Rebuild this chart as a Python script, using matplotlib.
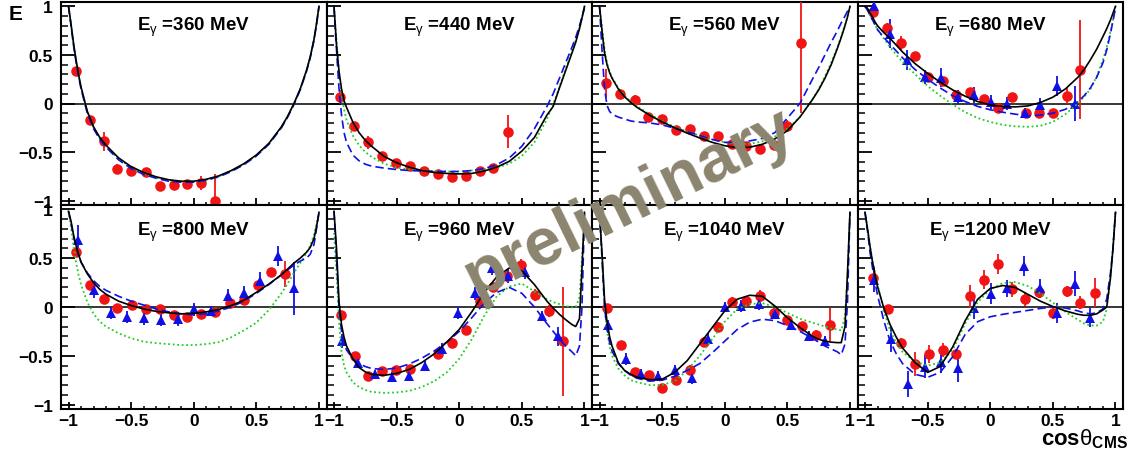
import matplotlib
matplotlib.use("Agg")
import matplotlib.pyplot as plt
from matplotlib.ticker import MultipleLocator, FixedLocator, FixedFormatter

plt.rcParams['font.family'] = ['Liberation Sans', 'DejaVu Sans']
plt.rcParams['mathtext.fontset'] = 'custom'
plt.rcParams['mathtext.rm'] = 'Liberation Sans'
plt.rcParams['mathtext.it'] = 'Liberation Sans:italic'
plt.rcParams['mathtext.bf'] = 'Liberation Sans:bold'

# ---------------- data ----------------
energies = [360, 440, 560, 680, 800, 960, 1040, 1200]

XG = [-1.0, -0.98, -0.96, -0.94, -0.92, -0.9, -0.85, -0.8, -0.75, -0.7, -0.6, -0.5, -0.4, -0.3, -0.2,
      -0.1, 0.0, 0.1, 0.2, 0.3, 0.4, 0.5, 0.6, 0.7, 0.75, 0.8, 0.85, 0.9, 0.93, 0.96, 0.98, 1.0]

# black solid model curves
black_360 = [1.0, 0.82, 0.62, 0.45, 0.30, 0.17, -0.08, -0.24, -0.35, -0.43, -0.56, -0.65, -0.71, -0.755, -0.785,
             -0.80, -0.80, -0.78, -0.745, -0.69, -0.62, -0.53, -0.41, -0.24, -0.13, 0.0, 0.15, 0.34, 0.48, 0.66, 0.82, 1.0]
black_440 = [1.0, 0.60, 0.33, 0.15, 0.03, -0.04, -0.19, -0.30, -0.38, -0.44, -0.545, -0.61, -0.655, -0.69, -0.71,
             -0.72, -0.725, -0.72, -0.695, -0.655, -0.595, -0.49, -0.35, -0.12, -0.03, 0.16, 0.34, 0.52, 0.63, 0.77, 0.88, 1.0]
black_560 = [1.0, 0.75, 0.52, 0.40, 0.32, 0.26, 0.15, 0.07, 0.01, -0.04, -0.12, -0.19, -0.25, -0.305, -0.355,
             -0.40, -0.435, -0.455, -0.45, -0.42, -0.365, -0.28, -0.14, 0.04, 0.14, 0.26, 0.40, 0.57, 0.68, 0.80, 0.89, 1.0]
black_680 = [1.0, 0.98, 0.93, 0.89, 0.84, 0.80, 0.73, 0.67, 0.60, 0.53, 0.41, 0.31, 0.22, 0.14, 0.075,
             0.02, -0.015, -0.03, -0.035, -0.025, 0.01, 0.065, 0.15, 0.27, 0.35, 0.45, 0.56, 0.69, 0.77, 0.86, 0.93, 1.0]
black_800 = [0.98, 0.88, 0.74, 0.63, 0.54, 0.46, 0.34, 0.25, 0.18, 0.13, 0.06, 0.015, -0.02, -0.045, -0.06,
             -0.07, -0.065, -0.05, -0.025, 0.015, 0.07, 0.15, 0.235, 0.33, 0.39, 0.45, 0.50, 0.56, 0.61, 0.70, 0.82, 0.97]
black_960 = [0.98, 0.60, 0.05, -0.18, -0.31, -0.40, -0.53, -0.62, -0.665, -0.69, -0.70, -0.68, -0.64, -0.57, -0.48,
             -0.36, -0.23, -0.05, 0.15, 0.31, 0.40, 0.37, 0.23, 0.06, -0.01, -0.075, -0.13, -0.18, -0.20, -0.12, 0.40, 0.97]
black_1040 = [0.97, 0.55, 0.08, -0.15, -0.30, -0.40, -0.57, -0.65, -0.69, -0.72, -0.745, -0.74, -0.67, -0.55, -0.38,
              -0.21, -0.04, 0.08, 0.12, 0.11, 0.01, -0.11, -0.21, -0.30, -0.33, -0.35, -0.36, -0.365, -0.365, -0.20, 0.35, 0.97]
black_1200 = [0.97, 0.80, 0.62, 0.46, 0.33, 0.21, -0.01, -0.18, -0.31, -0.42, -0.57, -0.67, -0.61, -0.41, -0.14,
              0.08, 0.19, 0.22, 0.20, 0.13, 0.06, 0.005, -0.04, -0.075, -0.085, -0.085, -0.07, -0.03, 0.0, 0.30, 0.60, 0.97]

# blue dashed model curves
blue_360 = [1.0, 0.80, 0.60, 0.43, 0.28, 0.15, -0.10, -0.26, -0.37, -0.45, -0.58, -0.67, -0.73, -0.77, -0.80,
            -0.81, -0.81, -0.79, -0.755, -0.70, -0.63, -0.54, -0.42, -0.25, -0.14, -0.01, 0.14, 0.33, 0.47, 0.65, 0.81, 1.0]
blue_440 = [0.98, 0.55, 0.15, -0.12, -0.30, -0.40, -0.53, -0.59, -0.625, -0.645, -0.665, -0.68, -0.69, -0.695, -0.70,
            -0.70, -0.70, -0.69, -0.67, -0.63, -0.56, -0.44, -0.26, -0.03, 0.10, 0.26, 0.42, 0.58, 0.68, 0.80, 0.89, 0.98]
blue_560 = [1.0, 0.55, 0.15, -0.02, -0.08, -0.11, -0.14, -0.16, -0.18, -0.19, -0.20, -0.22, -0.255, -0.29, -0.33,
            -0.37, -0.40, -0.40, -0.385, -0.36, -0.30, -0.15, 0.0, 0.25, 0.37, 0.50, 0.63, 0.75, 0.83, 0.90, 0.95, 1.0]
blue_680 = [1.0, 0.96, 0.91, 0.86, 0.81, 0.76, 0.68, 0.61, 0.54, 0.47, 0.35, 0.25, 0.16, 0.08, 0.02,
            -0.03, -0.065, -0.09, -0.11, -0.125, -0.12, -0.10, -0.06, 0.02, 0.08, 0.16, 0.27, 0.42, 0.55, 0.72, 0.85, 0.98]
blue_800 = [0.98, 0.86, 0.72, 0.62, 0.53, 0.46, 0.35, 0.27, 0.21, 0.17, 0.11, 0.06, 0.02, -0.02, -0.05,
            -0.07, -0.08, -0.07, -0.04, 0.0, 0.06, 0.14, 0.23, 0.33, 0.38, 0.43, 0.47, 0.50, 0.54, 0.64, 0.80, 0.97]
blue_960 = [0.98, 0.50, -0.02, -0.25, -0.37, -0.44, -0.53, -0.58, -0.61, -0.63, -0.64, -0.625, -0.585, -0.525, -0.45,
            -0.36, -0.25, -0.11, 0.04, 0.15, 0.20, 0.14, 0.0, -0.17, -0.25, -0.33, -0.40, -0.46, -0.50, -0.40, 0.0, 0.96]
blue_1040 = [0.97, 0.50, 0.0, -0.22, -0.36, -0.45, -0.58, -0.65, -0.70, -0.73, -0.76, -0.75, -0.71, -0.65, -0.58,
             -0.47, -0.35, -0.23, -0.155, -0.125, -0.14, -0.19, -0.25, -0.32, -0.36, -0.40, -0.43, -0.46, -0.49, -0.38, 0.05, 0.97]
blue_1200 = [0.97, 0.78, 0.56, 0.40, 0.25, 0.12, -0.14, -0.35, -0.48, -0.58, -0.69, -0.72, -0.67, -0.51, -0.28,
             -0.15, -0.10, -0.075, -0.055, -0.035, -0.015, 0.0, -0.01, -0.04, -0.06, -0.07, -0.06, -0.02, 0.08, 0.35, 0.60, 0.97]

# green dotted model curves
green_360 = [1.0, 0.81, 0.61, 0.44, 0.29, 0.16, -0.09, -0.25, -0.36, -0.44, -0.57, -0.66, -0.72, -0.765, -0.79,
             -0.805, -0.805, -0.785, -0.75, -0.695, -0.625, -0.535, -0.415, -0.245, -0.135, -0.005, 0.145, 0.335, 0.475, 0.655, 0.815, 1.0]
green_440 = [1.0, 0.65, 0.32, 0.10, -0.06, -0.17, -0.33, -0.43, -0.50, -0.55, -0.62, -0.66, -0.68, -0.69, -0.695,
             -0.70, -0.70, -0.69, -0.68, -0.66, -0.62, -0.54, -0.40, -0.16, -0.01, 0.17, 0.36, 0.54, 0.65, 0.78, 0.88, 1.0]
green_560 = [1.0, 0.78, 0.56, 0.42, 0.33, 0.27, 0.16, 0.08, 0.02, -0.03, -0.11, -0.18, -0.24, -0.29, -0.33,
             -0.37, -0.40, -0.415, -0.415, -0.39, -0.34, -0.26, -0.14, 0.04, 0.15, 0.28, 0.42, 0.58, 0.69, 0.81, 0.90, 1.0]
green_680 = [1.0, 0.96, 0.91, 0.86, 0.81, 0.76, 0.67, 0.58, 0.50, 0.43, 0.30, 0.18, 0.08, -0.01, -0.09,
             -0.15, -0.19, -0.22, -0.235, -0.24, -0.23, -0.19, -0.11, 0.0, 0.07, 0.15, 0.28, 0.45, 0.58, 0.74, 0.86, 1.0]
green_800 = [0.98, 0.82, 0.62, 0.46, 0.33, 0.23, 0.05, -0.07, -0.15, -0.20, -0.27, -0.32, -0.355, -0.37, -0.38,
             -0.39, -0.39, -0.38, -0.36, -0.31, -0.24, -0.16, -0.03, 0.14, 0.24, 0.35, 0.45, 0.55, 0.63, 0.74, 0.85, 0.96]
green_960 = [0.76, 0.35, -0.15, -0.47, -0.60, -0.67, -0.77, -0.82, -0.85, -0.87, -0.88, -0.875, -0.86, -0.82, -0.76,
             -0.67, -0.53, -0.33, -0.09, 0.11, 0.21, 0.24, 0.16, 0.08, 0.05, 0.03, 0.01, -0.005, 0.0, 0.10, 0.50, 0.96]
green_1040 = [0.97, 0.50, 0.0, -0.25, -0.40, -0.50, -0.63, -0.70, -0.75, -0.77, -0.80, -0.80, -0.76, -0.65, -0.50,
              -0.33, -0.15, -0.02, 0.03, 0.04, 0.0, -0.06, -0.12, -0.16, -0.18, -0.20, -0.22, -0.23, -0.24, -0.10, 0.30, 0.97]
green_1200 = [0.97, 0.80, 0.62, 0.48, 0.35, 0.23, -0.04, -0.24, -0.37, -0.46, -0.56, -0.60, -0.57, -0.44, -0.17,
              0.05, 0.18, 0.245, 0.255, 0.215, 0.14, 0.045, -0.05, -0.13, -0.17, -0.19, -0.19, -0.15, -0.02, 0.30, 0.60, 0.97]

# red circles (data set 1): x, E, error
red_x_360 = [-0.944, -0.83, -0.72, -0.61, -0.50, -0.384, -0.27, -0.16, -0.05, 0.06, 0.17]
red_y_360 = [0.333, -0.165, -0.39, -0.67, -0.70, -0.71, -0.85, -0.835, -0.83, -0.82, -1.0]
red_e_360 = [0.04, 0.04, 0.10, 0.05, 0.03, 0.03, 0.02, 0.03, 0.03, 0.07, 0.27]

red_x_440 = [-0.954, -0.842, -0.727, -0.615, -0.503, -0.393, -0.281, -0.17, -0.06, 0.05, 0.163, 0.27, 0.387]
red_y_440 = [0.069, -0.234, -0.40, -0.54, -0.61, -0.64, -0.69, -0.73, -0.76, -0.75, -0.70, -0.66, -0.29]
red_e_440 = [0.07, 0.04, 0.07, 0.03, 0.03, 0.03, 0.03, 0.03, 0.03, 0.03, 0.03, 0.04, 0.17]

red_x_560 = [-0.947, -0.836, -0.72, -0.61, -0.50, -0.39, -0.276, -0.166, -0.054, 0.056, 0.166, 0.28, 0.39, 0.50, 0.61]
red_y_560 = [0.206, 0.096, 0.04, -0.137, -0.155, -0.275, -0.265, -0.333, -0.333, -0.42, -0.44, -0.47, -0.43, -0.234, 0.62]
red_e_560 = [0.15, 0.05, 0.05, 0.04, 0.03, 0.03, 0.03, 0.03, 0.03, 0.03, 0.03, 0.03, 0.04, 0.06, 0.72]

red_x_680 = [-0.935, -0.827, -0.713, -0.60, -0.495, -0.38, -0.27, -0.16, -0.05, 0.06, 0.17, 0.285, 0.39, 0.50, 0.61, 0.72]
red_y_680 = [0.945, 0.78, 0.62, 0.49, 0.275, 0.23, 0.086, 0.12, 0.044, -0.05, 0.062, -0.10, -0.10, -0.10, 0.075, 0.35]
red_e_680 = [0.08, 0.05, 0.07, 0.04, 0.04, 0.04, 0.04, 0.03, 0.03, 0.03, 0.03, 0.04, 0.04, 0.04, 0.08, 0.51]

red_x_800 = [-0.944, -0.832, -0.72, -0.61, -0.496, -0.384, -0.27, -0.16, -0.05, 0.06, 0.17, 0.29, 0.40, 0.51, 0.616, 0.725]
red_y_800 = [0.56, 0.225, 0.085, -0.013, 0.017, -0.017, -0.02, -0.085, -0.10, -0.075, -0.05, 0.04, 0.07, 0.23, 0.36, 0.34]
red_e_800 = [0.04, 0.03, 0.03, 0.03, 0.03, 0.03, 0.03, 0.03, 0.03, 0.03, 0.03, 0.03, 0.03, 0.04, 0.04, 0.13]

red_x_960 = [-0.947, -0.834, -0.725, -0.613, -0.503, -0.39, -0.17, -0.06, 0.05, 0.163, 0.27, 0.38, 0.494, 0.606, 0.72, 0.83]
red_y_960 = [-0.085, -0.50, -0.71, -0.66, -0.65, -0.64, -0.48, -0.37, -0.24, 0.06, 0.21, 0.32, 0.43, 0.12, -0.04, -0.35]
red_e_960 = [0.03, 0.04, 0.04, 0.05, 0.04, 0.04, 0.04, 0.05, 0.05, 0.05, 0.05, 0.06, 0.06, 0.06, 0.06, 0.56]

red_x_1040 = [-0.94, -0.83, -0.72, -0.607, -0.50, -0.386, -0.277, -0.166, -0.054, 0.058, 0.168, 0.28, 0.39, 0.50, 0.614, 0.727, 0.84]
red_y_1040 = [-0.006, -0.39, -0.67, -0.695, -0.825, -0.746, -0.644, -0.357, -0.20, 0.055, 0.065, 0.11, -0.065, -0.13, -0.19, -0.29, -0.18]
red_e_1040 = [0.03, 0.03, 0.03, 0.03, 0.03, 0.04, 0.05, 0.05, 0.05, 0.05, 0.05, 0.06, 0.05, 0.04, 0.04, 0.05, 0.17]

red_x_1200 = [-0.94, -0.82, -0.715, -0.60, -0.49, -0.38, -0.27, -0.16, -0.05, 0.06, 0.17, 0.28, 0.39, 0.50, 0.61, 0.72, 0.835]
red_y_1200 = [0.30, -0.017, -0.365, -0.585, -0.48, -0.44, -0.48, 0.11, 0.28, 0.44, 0.18, 0.085, 0.15, -0.06, 0.16, 0.045, 0.147]
red_e_1200 = [0.04, 0.03, 0.05, 0.12, 0.09, 0.07, 0.05, 0.12, 0.10, 0.10, 0.08, 0.07, 0.06, 0.06, 0.06, 0.07, 0.15]

# blue triangles (data set 2)
tri_x_680 = [-0.93, -0.80, -0.665, -0.52, -0.39, -0.26, -0.13, 0.005, 0.135, 0.275, 0.40, 0.535, 0.675]
tri_y_680 = [1.0, 0.72, 0.45, 0.275, 0.265, 0.07, 0.085, 0.017, 0.0, -0.096, -0.02, 0.18, 0.0]
tri_e_680 = [0.08, 0.15, 0.10, 0.07, 0.10, 0.07, 0.08, 0.07, 0.07, 0.05, 0.08, 0.10, 0.18]

tri_x_800 = [-0.925, -0.80, -0.66, -0.53, -0.40, -0.264, -0.128, 0.003, 0.136, 0.272, 0.40, 0.53, 0.67, 0.80]
tri_y_800 = [0.685, 0.175, -0.06, -0.10, -0.11, -0.13, -0.125, -0.025, -0.04, 0.11, 0.145, 0.27, 0.52, 0.19]
tri_e_800 = [0.15, 0.08, 0.06, 0.06, 0.07, 0.06, 0.07, 0.07, 0.05, 0.07, 0.07, 0.09, 0.10, 0.27]

tri_x_960 = [-0.94, -0.81, -0.676, -0.54, -0.40, -0.275, -0.14, -0.006, 0.125, 0.26, 0.39, 0.525, 0.66, 0.79]
tri_y_960 = [-0.35, -0.57, -0.69, -0.72, -0.71, -0.60, -0.43, -0.06, 0.14, 0.40, 0.32, 0.36, -0.09, -0.30]
tri_e_960 = [0.07, 0.05, 0.04, 0.05, 0.05, 0.05, 0.06, 0.06, 0.07, 0.07, 0.07, 0.07, 0.05, 0.10]

tri_x_1040 = [-0.933, -0.79, -0.665, -0.53, -0.40, -0.265, -0.13, 0.002, 0.13, 0.27, 0.40, 0.53, 0.67, 0.80]
tri_y_1040 = [-0.18, -0.535, -0.69, -0.705, -0.65, -0.73, -0.33, 0.003, 0.01, 0.03, -0.075, -0.18, -0.30, -0.35]
tri_e_1040 = [0.05, 0.06, 0.05, 0.05, 0.06, 0.06, 0.06, 0.05, 0.06, 0.06, 0.05, 0.05, 0.05, 0.05]

tri_x_1200 = [-0.928, -0.795, -0.66, -0.52, -0.395, -0.26, -0.13, 0.003, 0.13, 0.27, 0.40, 0.535, 0.675, 0.80]
tri_y_1200 = [0.28, -0.33, -0.79, -0.61, -0.56, -0.62, -0.006, 0.137, 0.19, 0.42, 0.19, -0.06, 0.24, -0.11]
tri_e_1200 = [0.13, 0.13, 0.13, 0.12, 0.12, 0.15, 0.12, 0.11, 0.09, 0.10, 0.10, 0.10, 0.13, 0.10]

x_ticks = [-1, -0.5, 0, 0.5, 1]
x_tick_labels = ['\u22121', '\u22120.5', '0', '0.5', '1']
y_ticks = [-1, -0.5, 0, 0.5, 1]
y_tick_labels = ['\u22121', '\u22120.5', '0', '0.5', '1']

panels = [
    (black_360, blue_360, green_360, (red_x_360, red_y_360, red_e_360), None),
    (black_440, blue_440, green_440, (red_x_440, red_y_440, red_e_440), None),
    (black_560, blue_560, green_560, (red_x_560, red_y_560, red_e_560), None),
    (black_680, blue_680, green_680, (red_x_680, red_y_680, red_e_680), (tri_x_680, tri_y_680, tri_e_680)),
    (black_800, blue_800, green_800, (red_x_800, red_y_800, red_e_800), (tri_x_800, tri_y_800, tri_e_800)),
    (black_960, blue_960, green_960, (red_x_960, red_y_960, red_e_960), (tri_x_960, tri_y_960, tri_e_960)),
    (black_1040, blue_1040, green_1040, (red_x_1040, red_y_1040, red_e_1040), (tri_x_1040, tri_y_1040, tri_e_1040)),
    (black_1200, blue_1200, green_1200, (red_x_1200, red_y_1200, red_e_1200), (tri_x_1200, tri_y_1200, tri_e_1200)),
]

# ---------------- layout ----------------
FW, FH = 1134, 452
fig = plt.figure(figsize=(FW / 100, FH / 100), dpi=100)
col_left = [61, 326.5, 592, 857.5]
col_w = 265.5
row_top = [3, 206]
row_h = [203, 204]

RED = '#f01414'
BLUE = '#1010e6'
GREEN = '#22cc22'

for i, (blk, blu, grn, red, tri) in enumerate(panels):
    r, c = divmod(i, 4)
    left = col_left[c] / FW
    bottom = 1 - (row_top[r] + row_h[r]) / FH
    ax = fig.add_axes([left, bottom, col_w / FW, row_h[r] / FH])
    ax.set_xlim(-1.06, 1.06)
    ax.set_ylim(-1.045, 1.045)
    ax.axhline(0, color='black', lw=1.1, zorder=1)

    ax.errorbar(red[0], red[1], yerr=red[2], fmt='o', color=RED, ms=7.6, mew=0,
                elinewidth=1.3, capsize=2.5, capthick=1.3, zorder=3)
    if tri is not None:
        ax.errorbar(tri[0], tri[1], yerr=tri[2], fmt='^', color=BLUE, ms=7.8, mew=0,
                    elinewidth=1.3, capsize=2.5, capthick=1.3, zorder=3)

    ax.plot(XG, grn, color=GREEN, lw=1.3, ls=(0, (1, 1.5)), zorder=4)
    ax.plot(XG, blu, color=BLUE, lw=1.2, ls=(0, (5, 2.5)), zorder=5)
    ax.plot(XG, blk, color='black', lw=1.2, zorder=6)

    ax.text(0.0, 0.79 if r == 0 else 0.77, r'E$_{\mathrm{\gamma}}$ =%d MeV' % energies[i],
            ha='center', va='center', fontsize=13.5, fontweight='bold', zorder=7)

    for s in ax.spines.values():
        s.set_linewidth(1.5)
    ax.xaxis.set_major_locator(FixedLocator(x_ticks))
    ax.yaxis.set_major_locator(FixedLocator(y_ticks))
    ax.xaxis.set_minor_locator(MultipleLocator(0.1))
    ax.yaxis.set_minor_locator(MultipleLocator(0.1))
    ax.xaxis.set_major_formatter(FixedFormatter(x_tick_labels))
    ax.yaxis.set_major_formatter(FixedFormatter(y_tick_labels))
    ax.tick_params(axis='x', which='major', direction='in', length=5, width=1.3, top=False, pad=3,
                   labelsize=12.5, labelbottom=(r == 1))
    ax.tick_params(axis='x', which='minor', direction='in', length=2.5, width=1.1, top=False)
    ax.tick_params(axis='y', which='major', direction='in', length=10, width=1.3, right=False, pad=6,
                   labelsize=12.5, labelleft=(c == 0))
    ax.tick_params(axis='y', which='minor', direction='in', length=5, width=1.1, right=False)
    for lab in ax.get_xticklabels() + ax.get_yticklabels():
        lab.set_fontweight('bold')

fig.text(0.008, 0.99, 'E', ha='left', va='top', fontsize=15, fontweight='bold')
fig.text(0.995, 0.002, r'cos$\mathrm{\theta}_{\mathbf{CMS}}$', ha='right', va='bottom',
         fontsize=16, fontweight='bold')
fig.text(0.555, 0.55, 'preliminary', ha='center', va='center', rotation=26,
         fontsize=48, fontweight='bold', color='#8b856f', zorder=20)

fig.savefig('out.png', dpi=100)
